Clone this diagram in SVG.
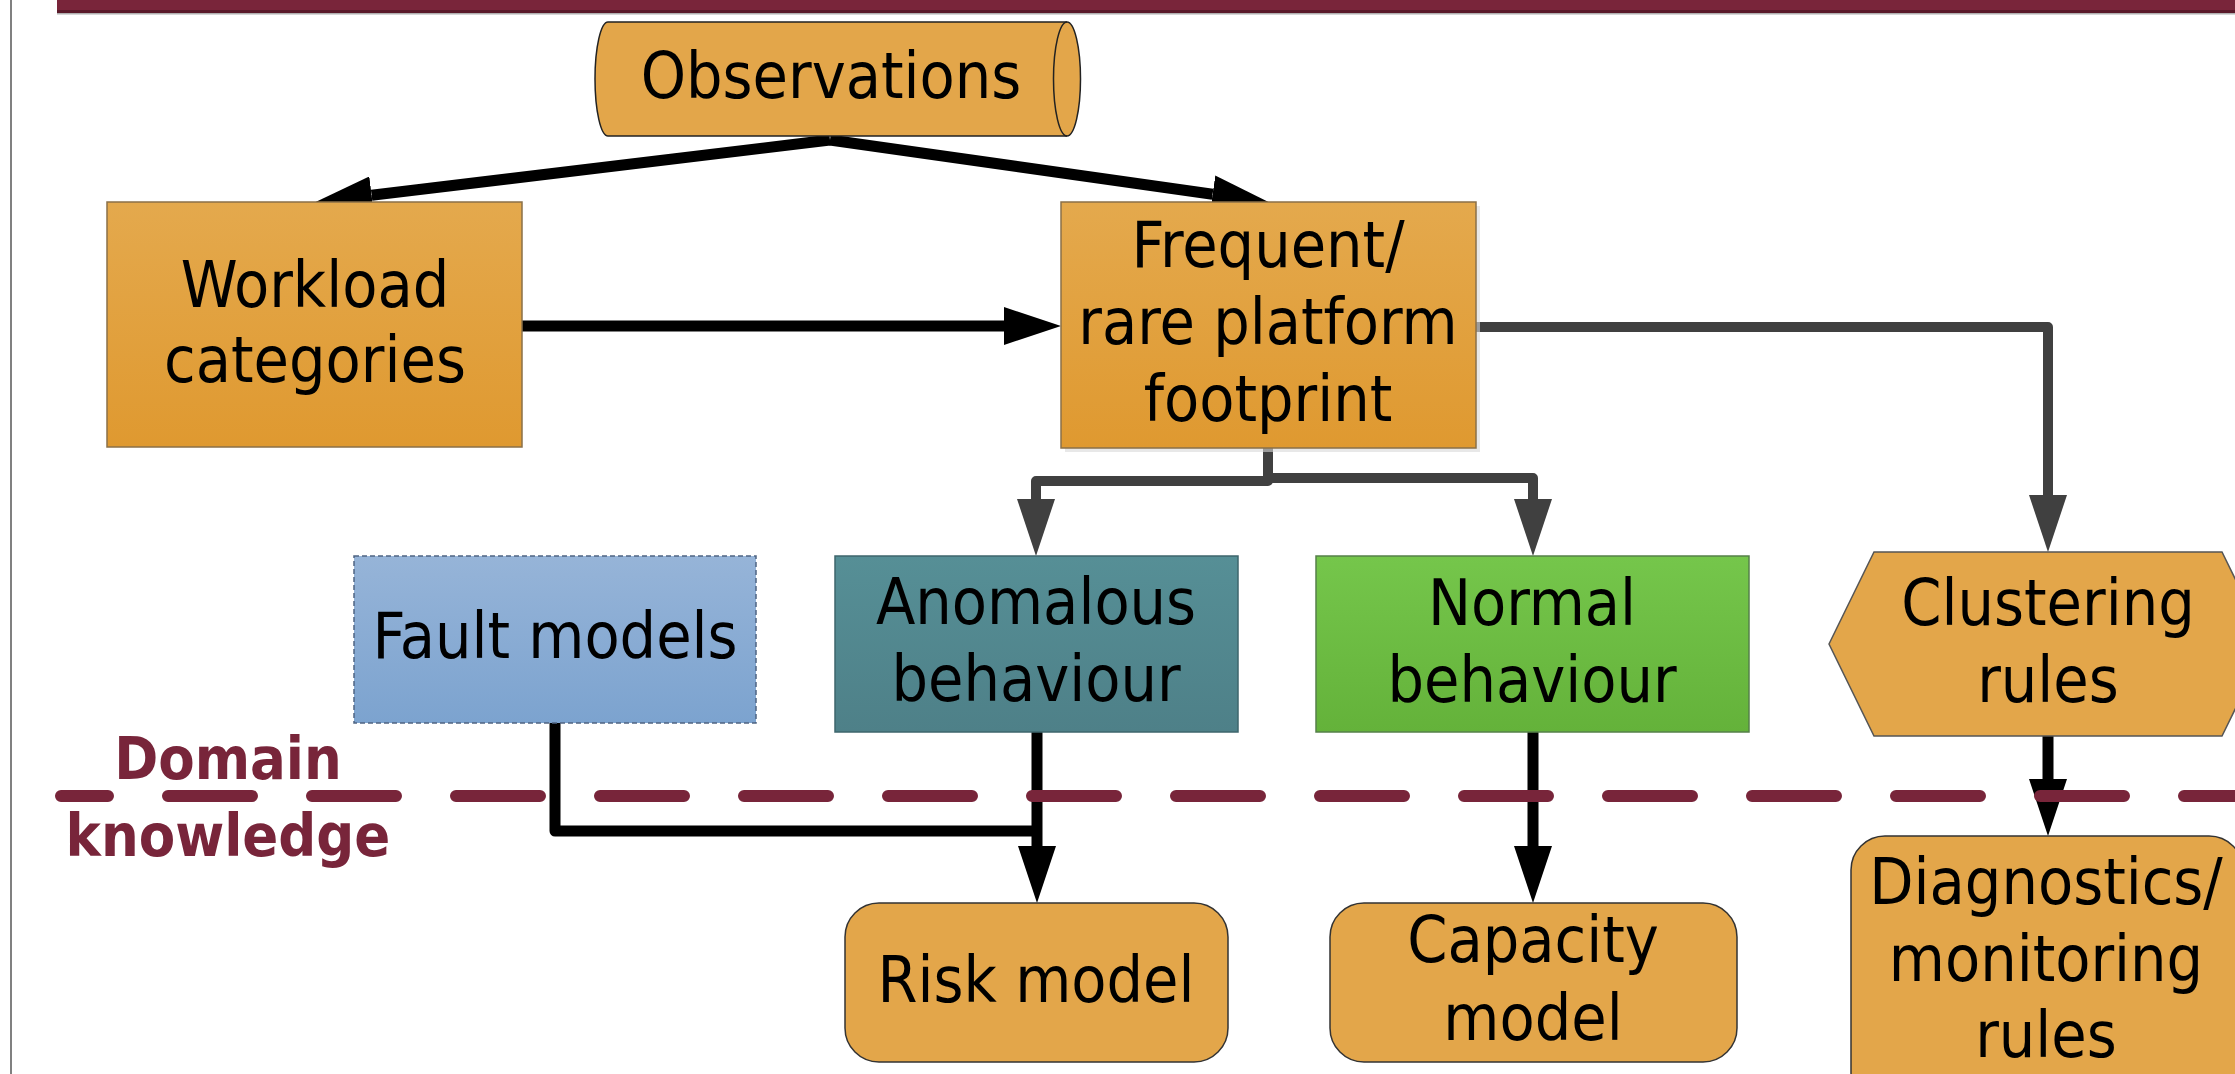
<svg xmlns="http://www.w3.org/2000/svg" width="2235" height="1074" viewBox="0 0 2235 1074">
<defs>
<linearGradient id="gOrange" x1="0" y1="0" x2="0" y2="1"><stop offset="0" stop-color="#E4A94D"/><stop offset="1" stop-color="#DF9930"/></linearGradient>
<linearGradient id="gTeal" x1="0" y1="0" x2="0" y2="1"><stop offset="0" stop-color="#568F96"/><stop offset="1" stop-color="#4E8088"/></linearGradient>
<linearGradient id="gGreen" x1="0" y1="0" x2="0" y2="1"><stop offset="0" stop-color="#75C64B"/><stop offset="1" stop-color="#64B23A"/></linearGradient>
<linearGradient id="gBlue" x1="0" y1="0" x2="0" y2="1"><stop offset="0" stop-color="#96B4D8"/><stop offset="1" stop-color="#7CA3CF"/></linearGradient>
<marker id="ahBlack" markerUnits="userSpaceOnUse" markerWidth="57" markerHeight="38" viewBox="0 0 57 38" refX="0" refY="19" orient="auto"><path d="M0,0 L57,19 L0,38 Z" fill="#000"/></marker>
<marker id="ahGray" markerUnits="userSpaceOnUse" markerWidth="57" markerHeight="38" viewBox="0 0 57 38" refX="0" refY="19" orient="auto"><path d="M0,0 L57,19 L0,38 Z" fill="#404040"/></marker>
<style>
.t{font-family:"DejaVu Sans Condensed","DejaVu Sans","Liberation Sans",sans-serif;font-stretch:condensed;font-size:64px;fill:#000;text-anchor:middle}
.dk{font-family:"DejaVu Sans Condensed","DejaVu Sans","Liberation Sans",sans-serif;font-stretch:condensed;font-size:59px;font-weight:bold;fill:#78253A;text-anchor:middle}
.cb{fill:none;stroke:#000;stroke-width:11;stroke-linejoin:round;marker-end:url(#ahBlack)}
.cbn{fill:none;stroke:#000;stroke-width:11;stroke-linejoin:round}
.cg{fill:none;stroke:#404040;stroke-width:10;stroke-linejoin:round;marker-end:url(#ahGray)}
.orange{fill:url(#gOrange);stroke:#8A7048;stroke-width:1.5}
.flat{fill:#E3A64A;stroke:#333;stroke-width:1.5}
</style>
</defs>
<rect x="0" y="0" width="2235" height="1074" fill="#fff"/>
<g id="frame">
<line x1="11" y1="0" x2="11" y2="1074" stroke="#808080" stroke-width="2"/>
<rect x="57" y="0" width="2178" height="10" fill="#79253A"/>
<rect x="57" y="10" width="2178" height="3" fill="#5A1A2A"/>
<rect x="57" y="13" width="2178" height="1.5" fill="#B0B0B0"/>
</g>

<g id="connectors">
<path class="cb" d="M830,140 L371.6,195.3"/>
<path class="cb" d="M830,140 L1212.6,194.2"/>
<path class="cb" d="M522,326 H1004"/>
<path class="cg" d="M1476,327 H2048 V495"/>
<path class="cg" d="M1268,448 V481 H1036 V499"/>
<path class="cg" d="M1268,448 V478 H1533 V499"/>
<path class="cbn" d="M555,723 V831 H1037"/>
<path class="cb" d="M1037,732 V846"/>
<path class="cb" d="M1533,732 V846"/>
<path class="cb" d="M2048,736 V779"/>
</g>

<g id="observations">
<path d="M608,22 H1067 A13.5,57 0 0 1 1067,136 H608 A13,57 0 0 1 608,22 Z" fill="#E3A64A" stroke="#222" stroke-width="1.5"/>
<path d="M1067,22 A13.5,57 0 0 0 1067,136" fill="none" stroke="#222" stroke-width="1.5"/>
<text class="t" x="831" y="98">Observations</text>
</g>

<g id="workload">
<rect class="orange" x="107" y="202" width="415" height="245"/>
<text class="t" x="315" y="307">Workload</text>
<text class="t" x="315" y="382">categories</text>
</g>

<g id="footprint">
<rect x="1065" y="206" width="415" height="246" fill="#D8D8D8" opacity="0.6"/>
<rect class="orange" x="1061" y="202" width="415" height="246"/>
<text class="t" x="1268" y="267">Frequent/</text>
<text class="t" x="1268" y="344">rare platform</text>
<text class="t" x="1268" y="421">footprint</text>
</g>

<g id="fault-models">
<rect x="354" y="556" width="402" height="167" fill="url(#gBlue)" stroke="#4F6482" stroke-width="1.5" stroke-dasharray="5,3"/>
<text class="t" x="555" y="658">Fault models</text>
</g>

<g id="anomalous">
<rect x="835" y="556" width="403" height="176" fill="url(#gTeal)" stroke="#3E666C" stroke-width="1.5"/>
<text class="t" x="1036" y="624">Anomalous</text>
<text class="t" x="1036" y="701">behaviour</text>
</g>

<g id="normal">
<rect x="1316" y="556" width="433" height="176" fill="url(#gGreen)" stroke="#55804A" stroke-width="1.5"/>
<text class="t" x="1532" y="625">Normal</text>
<text class="t" x="1532" y="702">behaviour</text>
</g>

<g id="clustering">
<path d="M1829,644 L1874,552 H2222 L2267,644 L2222,736 H1874 Z" fill="#E3A64A" stroke="#555" stroke-width="1.5"/>
<text class="t" x="2048" y="625">Clustering</text>
<text class="t" x="2048" y="702">rules</text>
</g>

<g id="risk">
<rect class="flat" x="845" y="903" width="383" height="159" rx="34" ry="34"/>
<text class="t" x="1036" y="1002">Risk model</text>
</g>

<g id="capacity">
<rect class="flat" x="1330" y="903" width="407" height="159" rx="34" ry="34"/>
<text class="t" x="1533" y="962">Capacity</text>
<text class="t" x="1533" y="1040">model</text>
</g>

<g id="diagnostics">
<rect class="flat" x="1851" y="836" width="392" height="270" rx="34" ry="34"/>
<text class="t" x="2046" y="904">Diagnostics/</text>
<text class="t" x="2046" y="981">monitoring</text>
<text class="t" x="2046" y="1057">rules</text>
</g>

<g id="domain-boundary">
<line x1="61" y1="796" x2="2240" y2="796" stroke="#78253A" stroke-width="12" stroke-linecap="round" stroke-dasharray="84,60" stroke-dashoffset="37"/>
<text class="dk" x="228" y="779">Domain</text>
<text class="dk" x="228" y="856">knowledge</text>
</g>
</svg>
